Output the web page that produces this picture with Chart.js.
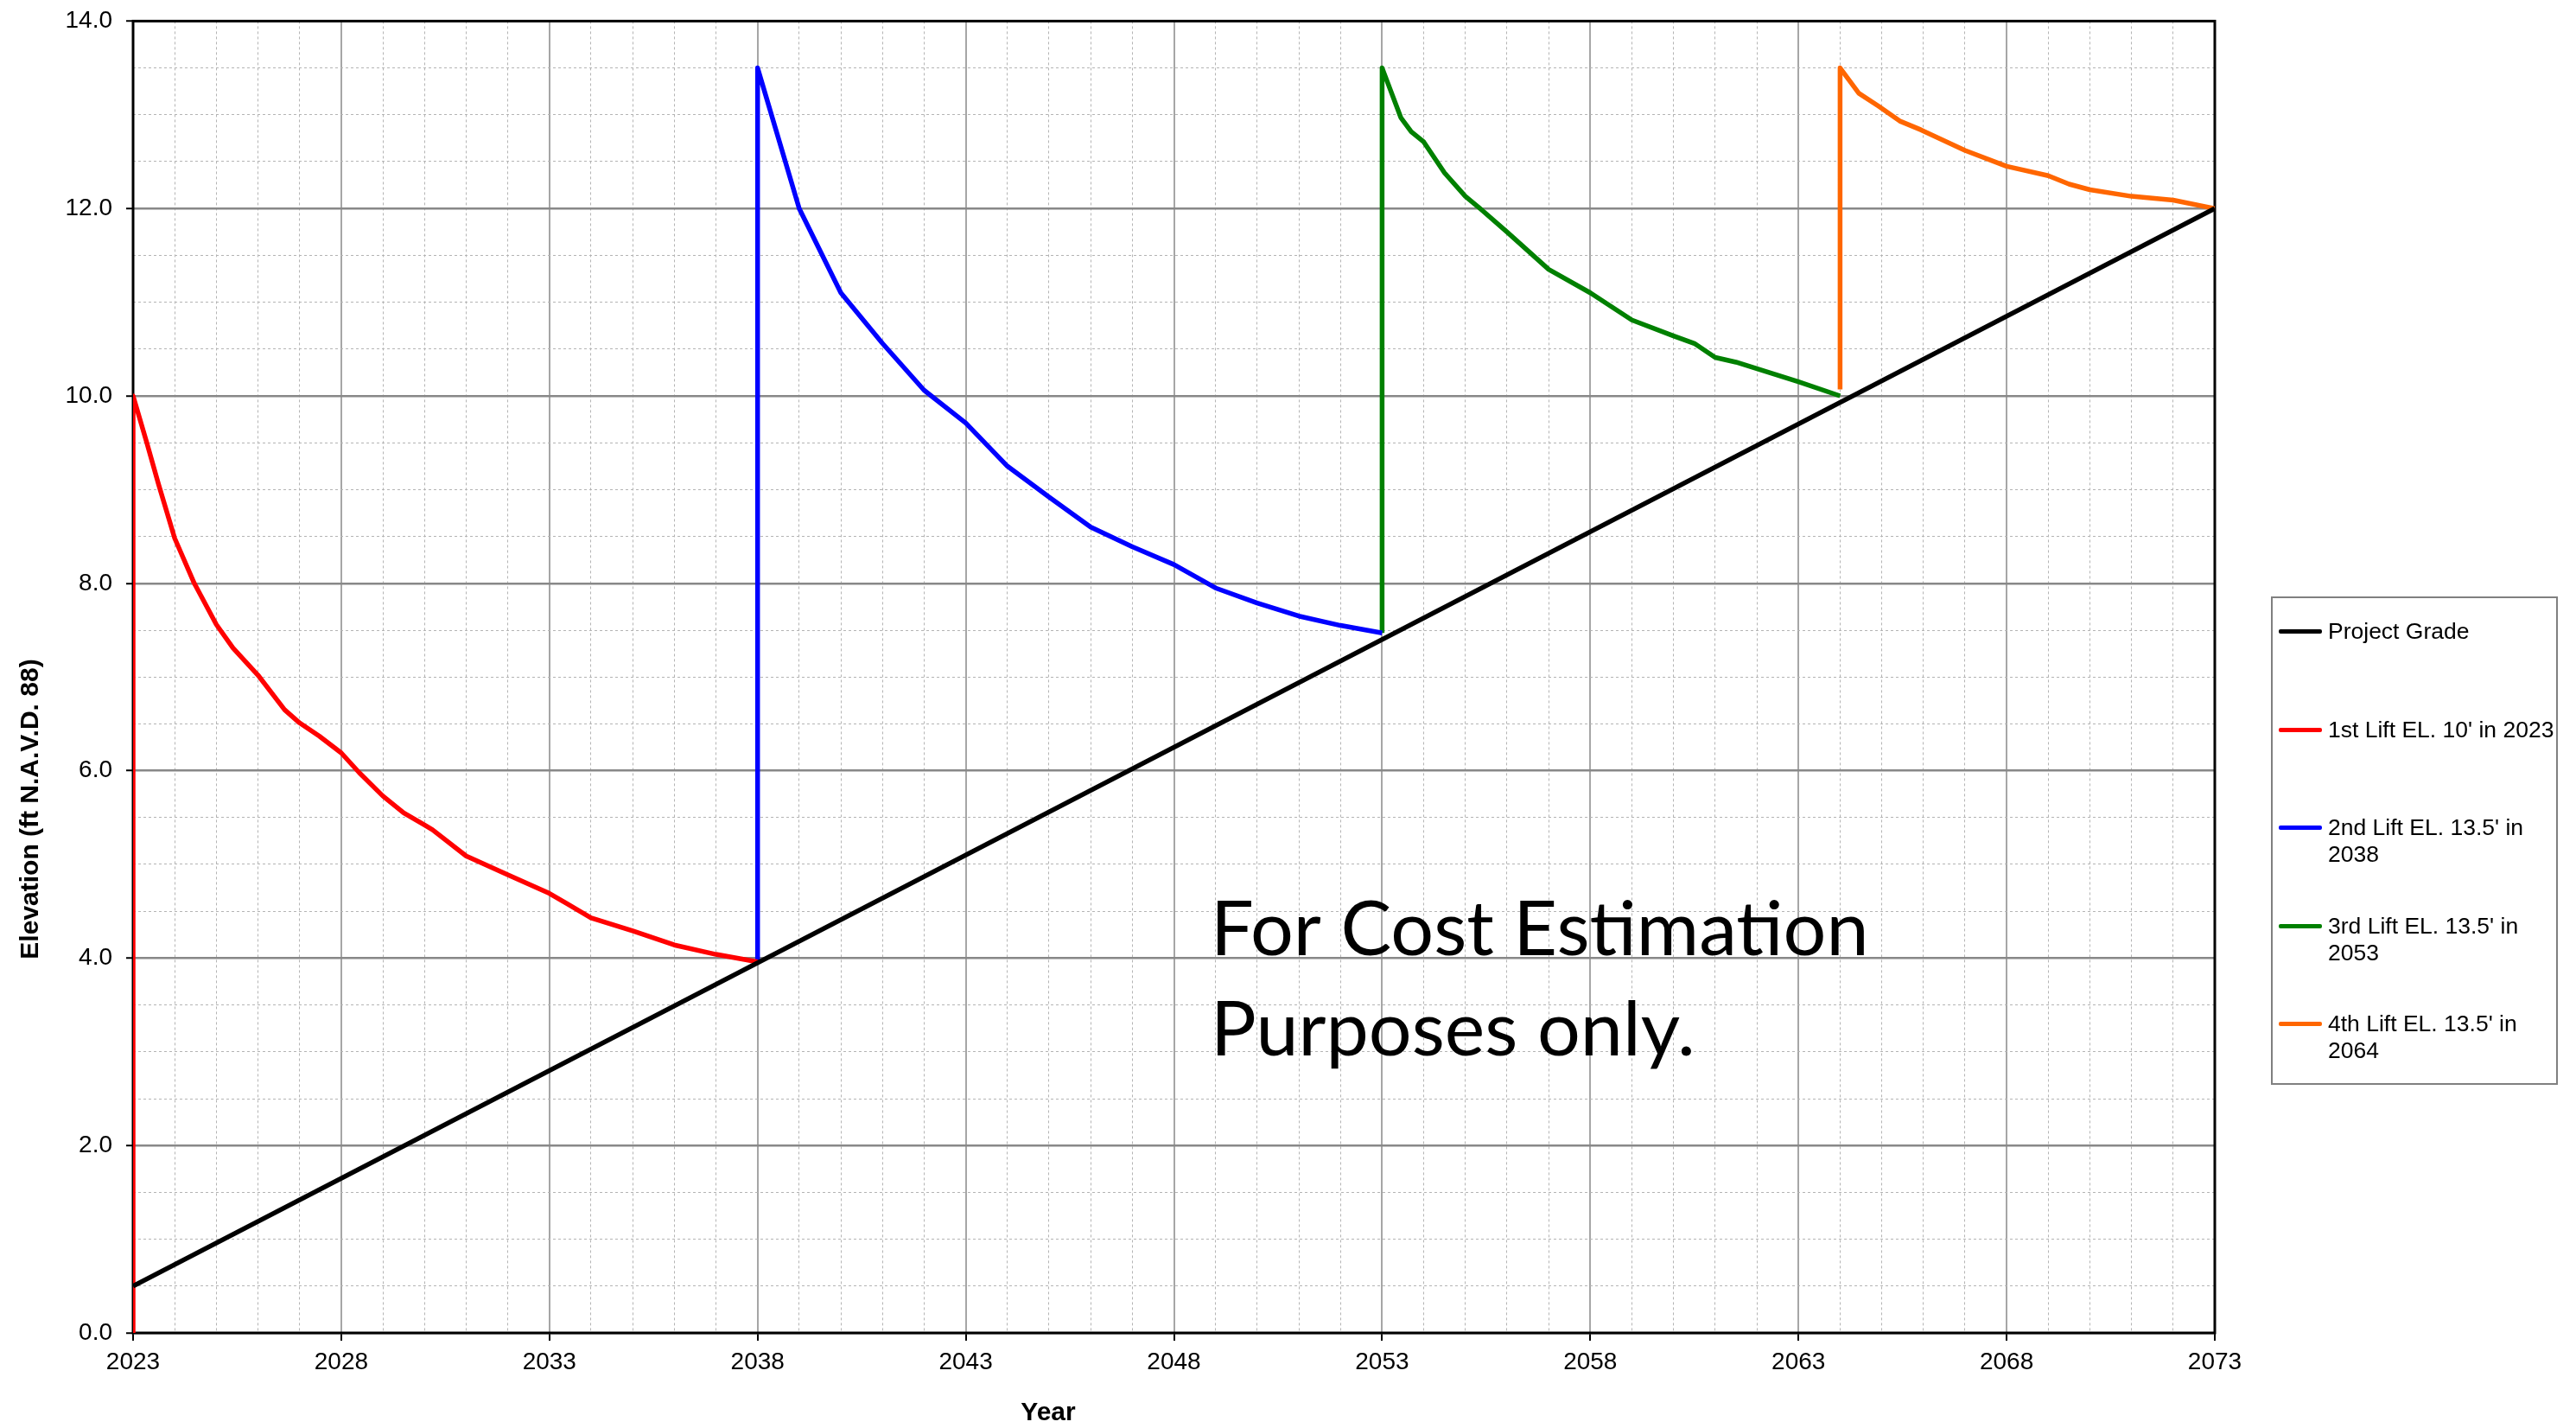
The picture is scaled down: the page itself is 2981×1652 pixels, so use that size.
<!DOCTYPE html>
<html>
<head>
<meta charset="utf-8">
<title>Elevation lifts</title>
<script src="https://cdn.jsdelivr.net/npm/chart.js@4.4.1/dist/chart.umd.min.js"></script>
<style>
  body { margin: 0; background: #fff; overflow: hidden; }
  #wrap { position: relative; width: 2981px; height: 1652px; }
  #legend {
    position: absolute; left: 2628px; top: 690px; width: 332px; height: 565px;
    box-sizing: border-box; border: 2px solid #808080; padding-top: 23px;
    font-family: "Liberation Sans", Arial, sans-serif; font-size: 26.5px; line-height: 31px; color: #000;
  }
  .item { display: flex; height: 113.5px; }
  .swatch { flex: none; width: 50px; height: 5px; margin: 13px 7px 0 7px; border-radius: 2px; }
  .txt { width: 268px; }
</style>
</head>
<body>
<div id="wrap">
  <canvas id="chartLifts" width="2981" height="1652"></canvas>
  <div id="legend"></div>
</div>
<script>
// values
const gradeYears = [2023, 2073];
const gradeElev = [0.5, 12.0];

const lift1Years = [2023, 2023, 2023.33, 2023.61, 2024, 2024.47, 2025, 2025.4, 2026, 2026.64, 2027, 2027.47, 2028, 2028.43,
  2029, 2029.5, 2030, 2030.19, 2031, 2032, 2033, 2033.43, 2034, 2035, 2036, 2037, 2038];
const lift1Elev = [0, 10.0, 9.50, 9.06, 8.48, 8.00, 7.56, 7.31, 7.02, 6.65, 6.51, 6.37, 6.19, 5.98,
  5.73, 5.55, 5.42, 5.37, 5.09, 4.89, 4.69, 4.58, 4.43, 4.29, 4.14, 4.04, 3.96];

const lift2Years = [2038, 2038, 2039, 2040, 2041, 2042, 2043, 2044, 2045, 2046, 2047, 2048, 2049, 2050, 2051, 2052, 2053];
const lift2Elev = [3.96, 13.5, 12.0, 11.10, 10.56, 10.06, 9.71, 9.25, 8.92, 8.60, 8.39, 8.20, 7.95, 7.79, 7.65, 7.55, 7.47];

const lift3Years = [2053, 2053, 2053.45, 2053.7, 2054, 2054.5, 2055, 2055.3, 2056, 2057, 2058, 2059, 2060, 2060.5, 2061, 2061.5, 2063, 2064];
const lift3Elev = [7.47, 13.5, 12.97, 12.82, 12.71, 12.38, 12.13, 12.02, 11.75, 11.35, 11.10, 10.81, 10.64, 10.56, 10.41, 10.36, 10.15, 10.0];

const lift4Years = [2064, 2064, 2064.45, 2064.93, 2065.45, 2065.94, 2067, 2068, 2069, 2069.5, 2070, 2071, 2072, 2073];
const lift4Elev = [10.07, 13.5, 13.23, 13.09, 12.93, 12.84, 12.62, 12.45, 12.35, 12.26, 12.20, 12.13, 12.09, 12.0];

const seriesLabels = ['Project Grade', "1st Lift EL. 10' in 2023", "2nd Lift EL. 13.5' in 2038",
  "3rd Lift EL. 13.5' in 2053", "4th Lift EL. 13.5' in 2064"];
const seriesColors = ['#000000', '#ff0000', '#0000ff', '#008000', '#ff6600'];

const xTitle = 'Year';
const yTitle = 'Elevation (ft N.A.V.D. 88)';
const note = ['For Cost Estimation', 'Purposes only.'];

const toPoints = (xs, ys) => xs.map((x, i) => ({x: x, y: ys[i]}));
const allSeries = [
  toPoints(gradeYears, gradeElev),
  toPoints(lift1Years, lift1Elev),
  toPoints(lift2Years, lift2Elev),
  toPoints(lift3Years, lift3Elev),
  toPoints(lift4Years, lift4Elev)
];

const isMajorX = v => Math.abs((v - 2023) % 5) < 1e-9;
const isMajorY = v => Math.abs(v % 2) < 1e-9;

Chart.defaults.font.family = '"Liberation Sans", Arial, sans-serif';
Chart.defaults.color = '#000';

const frameAndText = {
  id: 'frameAndText',
  beforeDatasetsDraw(chart) {
    const ctx = chart.ctx;
    const a = chart.chartArea;
    ctx.save();
    ctx.strokeStyle = '#000';
    ctx.lineWidth = 3;
    ctx.strokeRect(a.left, a.top, a.right - a.left, a.bottom - a.top);
    ctx.restore();
  },
  afterDraw(chart) {
    const ctx = chart.ctx;
    ctx.save();
    ctx.fillStyle = '#000';
    ctx.font = 'bold 30px "Liberation Sans", Arial, sans-serif';
    ctx.textAlign = 'center';
    ctx.textBaseline = 'middle';
    ctx.fillText(xTitle, 1213, 1635);
    ctx.translate(36, 936);
    ctx.rotate(-Math.PI / 2);
    ctx.fillText(yTitle, 0, 0);
    ctx.restore();

    ctx.save();
    ctx.fillStyle = '#000';
    ctx.font = '88px Lato, "Open Sans", sans-serif';
    ctx.textAlign = 'left';
    ctx.textBaseline = 'alphabetic';
    ctx.fillText(note[0], 1401, 1105);
    ctx.fillText(note[1], 1401, 1221);
    ctx.restore();
  }
};

const ctx = document.getElementById('chartLifts').getContext('2d');
const chart = new Chart(ctx, {
  type: 'line',
  data: {
    datasets: allSeries.map((pts, i) => ({
      label: seriesLabels[i],
      data: pts,
      borderColor: seriesColors[i],
      backgroundColor: seriesColors[i],
      borderWidth: 5.5,
      pointRadius: 0,
      tension: 0,
      fill: false,
      borderJoinStyle: 'round'
    }))
  },
  options: {
    responsive: false,
    animation: false,
    devicePixelRatio: 1,
    layout: { padding: { top: 23, right: 418, bottom: 0, left: 0 } },
    plugins: { legend: { display: false }, tooltip: { enabled: false } },
    scales: {
      x: {
        type: 'linear', min: 2023, max: 2073,
        afterFit: s => { s.height = 110; },
        ticks: {
          stepSize: 1, autoSkip: false, maxRotation: 0, padding: 8,
          font: { size: 28 },
          callback: v => isMajorX(v) ? String(v) : ''
        },
        grid: {
          color: c => c.tick && isMajorX(c.tick.value) ? '#a6a6a6' : '#b4b4b4',
          lineWidth: c => c.tick && isMajorX(c.tick.value) ? 2 : 1,
          tickLength: 9,
          tickWidth: 2,
          tickColor: c => c.tick && isMajorX(c.tick.value) ? '#000' : 'rgba(0,0,0,0)'
        },
        border: { display: false, dash: c => c.tick && !isMajorX(c.tick.value) ? [3, 3] : [] }
      },
      y: {
        type: 'linear', min: 0, max: 14,
        afterFit: s => { s.width = 154; },
        ticks: {
          stepSize: 0.5, autoSkip: false, padding: 16,
          font: { size: 28, lineHeight: 0.6 },
          callback: v => isMajorY(v) ? v.toFixed(1) : ''
        },
        grid: {
          color: c => c.tick && isMajorY(c.tick.value) ? '#888888' : '#b4b4b4',
          lineWidth: c => c.tick && isMajorY(c.tick.value) ? 2.5 : 1,
          tickLength: 8,
          tickWidth: 2,
          tickColor: c => c.tick && isMajorY(c.tick.value) ? '#000' : 'rgba(0,0,0,0)'
        },
        border: { display: false, dash: c => c.tick && !isMajorY(c.tick.value) ? [3, 3] : [] }
      }
    }
  },
  plugins: [frameAndText]
});

// boxed legend at the right, built from the datasets
const legendEl = document.getElementById('legend');
chart.data.datasets.forEach(ds => {
  const item = document.createElement('div');
  item.className = 'item';
  const sw = document.createElement('div');
  sw.className = 'swatch';
  sw.style.background = ds.borderColor;
  const txt = document.createElement('div');
  txt.className = 'txt';
  txt.textContent = ds.label;
  item.appendChild(sw);
  item.appendChild(txt);
  legendEl.appendChild(item);
});
</script>
</body>
</html>
